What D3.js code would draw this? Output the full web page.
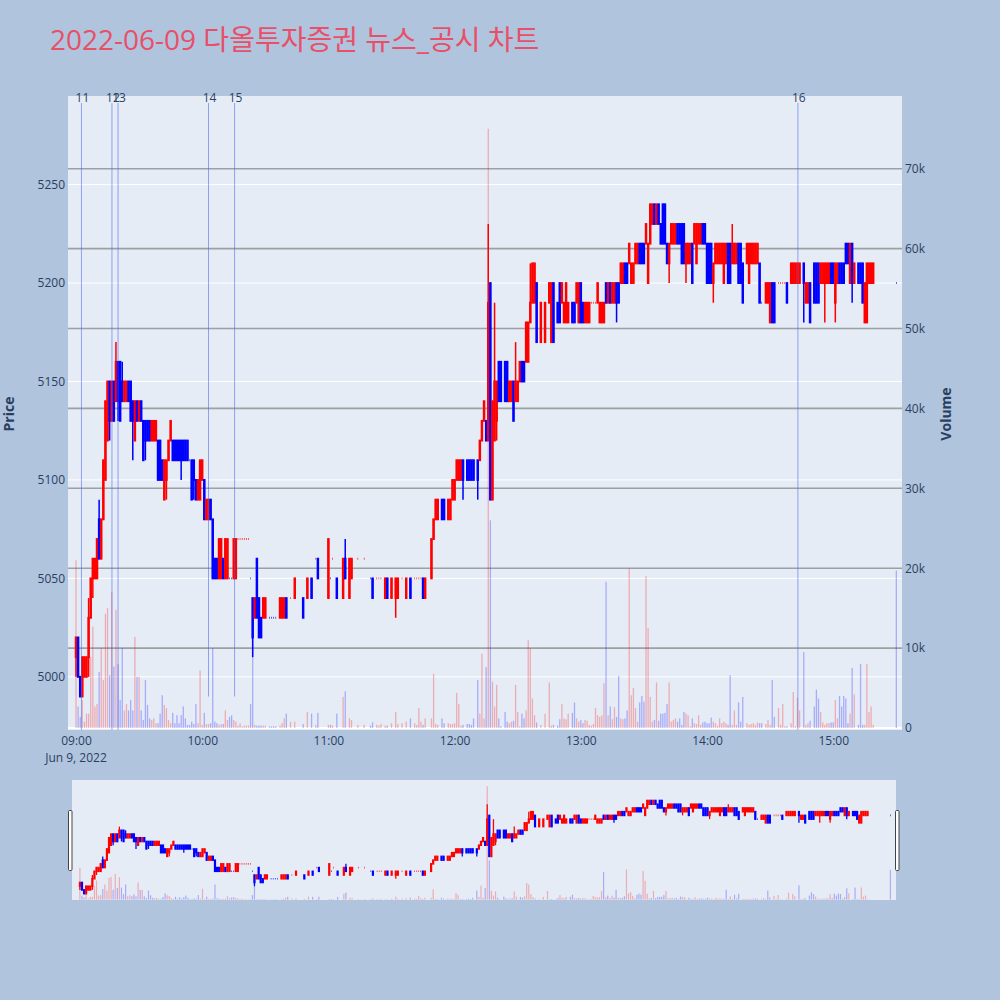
<!DOCTYPE html>
<html>
<head>
<meta charset="utf-8">
<script src="https://cdn.jsdelivr.net/npm/d3@7"></script>
<style>
  body { margin: 0; background: #b0c4de; }
  text { font-family: "Open Sans", "Noto Sans CJK KR", sans-serif; }
</style>
</head>
<body>
<svg width="1000" height="1000"></svg>
<script>
// minutes after 09:00 that have a candle
const minutes = [
  0,1,2,3,4,5,6,7,8,9,
  10,11,12,13,14,15,16,17,18,19,
  20,21,22,23,24,25,26,27,28,29,
  30,31,32,33,34,35,36,37,38,39,
  40,41,42,43,44,45,46,47,48,49,
  50,51,52,53,54,55,56,57,58,59,
  60,61,62,63,64,65,66,67,68,69,
  70,71,72,73,74,75,76,77,78,79,
  80,81,82,83,84,85,86,87,88,89,
  90,92,93,94,95,97,98,99,100,102,
  104,108,110,112,114,115,120,121,122,124,
  127,128,130,131,134,137,140,141,143,144,
  145,147,148,150,152,153,155,157,159,161,
  162,163,164,165,166,169,170,171,172,174,
  175,177,178,179,180,181,182,183,184,186,
  187,188,189,191,192,193,194,195,196,197,
  198,199,200,201,202,204,205,206,207,208,
  209,210,211,212,213,214,215,216,217,218,
  219,221,223,225,226,227,229,230,231,232,
  233,234,236,237,238,239,240,241,242,243,
  244,245,246,247,248,249,250,251,252,253,
  254,255,256,257,258,259,260,261,262,263,
  264,265,266,267,268,269,270,271,272,273,
  274,275,276,277,278,279,280,281,282,283,
  284,285,286,287,288,289,290,291,292,293,
  294,295,296,297,298,299,300,301,302,303,
  304,305,306,307,308,309,310,311,312,313,
  314,315,316,317,319,320,321,322,323,324,
  325,326,328,329,330,331,332,334,335,336,
  337,338,340,341,342,343,344,346,347,348,
  349,351,352,353,354,355,356,357,358,359,
  360,361,362,363,364,365,366,367,368,369,
  370,372,373,374,375,376,377,378,379,390
];
const opens = [
  5010,5020,5000,4990,5000,5000,5010,5030,5050,5050,
  5050,5080,5060,5080,5100,5120,5150,5130,5150,5140,
  5160,5160,5150,5140,5140,5150,5150,5140,5120,5140,
  5130,5140,5130,5130,5130,5130,5120,5120,5120,5120,
  5120,5110,5090,5100,5110,5120,5120,5120,5120,5120,
  5120,5120,5120,5120,5110,5110,5110,5100,5090,5090,
  5100,5100,5080,5080,5090,5080,5060,5060,5050,5050,
  5060,5050,5050,5050,5050,5050,5050,5070,5070,5070,
  5070,5070,5070,5050,5040,5030,5060,5040,5030,5030,
  5030,5030,5030,5030,5030,5030,5030,5030,5040,5040,
  5040,5040,5040,5050,5060,5060,5040,5050,5060,5050,
  5040,5060,5040,5050,5060,5060,5050,5050,5050,5050,
  5050,5040,5050,5040,5040,5040,5050,5040,5050,5050,
  5050,5050,5050,5050,5040,5050,5070,5080,5080,5090,
  5090,5080,5080,5090,5090,5100,5100,5100,5110,5110,
  5110,5110,5110,5110,5110,5120,5130,5130,5120,5200,
  5090,5120,5130,5160,5160,5160,5160,5140,5140,5150,
  5140,5140,5150,5160,5160,5160,5160,5180,5190,5190,
  5200,5170,5170,5190,5170,5200,5190,5200,5190,5180,
  5180,5180,5190,5190,5190,5180,5200,5190,5180,5180,
  5180,5190,5190,5190,5190,5180,5180,5180,5200,5190,
  5200,5190,5190,5200,5200,5200,5200,5210,5210,5210,
  5200,5200,5210,5210,5220,5220,5220,5220,5200,5220,
  5230,5240,5230,5240,5230,5240,5240,5220,5210,5220,
  5220,5220,5230,5230,5230,5230,5210,5210,5210,5220,
  5220,5210,5220,5220,5230,5230,5220,5220,5220,5200,
  5210,5210,5210,5210,5200,5210,5220,5220,5210,5210,
  5210,5220,5220,5210,5210,5200,5210,5210,5210,5210,
  5210,5190,5190,5190,5180,5200,5200,5200,5200,5200,
  5200,5200,5200,5200,5200,5200,5200,5210,5190,5190,
  5200,5210,5210,5210,5200,5200,5200,5200,5200,5210,
  5210,5190,5200,5210,5210,5210,5220,5220,5200,5220,
  5200,5210,5210,5210,5180,5180,5200,5200,5200,5200
];
const highs = [
  5020,5020,5000,5010,5010,5010,5040,5050,5060,5060,
  5070,5090,5080,5110,5140,5150,5150,5150,5150,5170,
  5160,5160,5160,5150,5150,5150,5150,5140,5140,5140,
  5140,5140,5130,5130,5130,5130,5130,5130,5130,5120,
  5120,5110,5110,5110,5120,5130,5120,5120,5120,5120,
  5120,5120,5120,5120,5110,5110,5110,5100,5100,5110,
  5110,5100,5090,5090,5090,5080,5060,5060,5070,5070,
  5060,5070,5070,5050,5050,5070,5070,5070,5070,5070,
  5070,5070,5070,5050,5040,5040,5060,5040,5030,5040,
  5040,5030,5030,5030,5030,5040,5040,5040,5040,5040,
  5050,5040,5050,5050,5060,5060,5070,5050,5060,5050,
  5060,5070,5060,5060,5060,5060,5050,5050,5050,5050,
  5050,5050,5050,5050,5050,5050,5050,5050,5050,5050,
  5050,5050,5050,5050,5050,5070,5080,5090,5090,5090,
  5090,5090,5090,5100,5100,5110,5110,5110,5110,5110,
  5110,5110,5110,5110,5120,5130,5140,5130,5230,5200,
  5140,5190,5150,5160,5160,5160,5160,5150,5150,5150,
  5170,5150,5160,5160,5160,5180,5180,5210,5210,5210,
  5200,5190,5190,5200,5200,5200,5190,5200,5200,5190,
  5200,5190,5190,5190,5200,5200,5200,5190,5190,5190,
  5190,5190,5190,5190,5200,5190,5190,5190,5200,5200,
  5200,5200,5200,5200,5200,5210,5210,5210,5210,5220,
  5210,5210,5220,5220,5220,5220,5220,5230,5220,5240,
  5240,5240,5240,5240,5230,5240,5240,5220,5220,5230,
  5230,5230,5230,5230,5230,5230,5220,5220,5220,5220,
  5230,5230,5230,5230,5230,5230,5220,5220,5220,5210,
  5220,5220,5220,5220,5220,5220,5220,5220,5230,5220,
  5220,5220,5220,5210,5220,5220,5220,5220,5220,5220,
  5210,5190,5200,5200,5200,5200,5200,5200,5200,5200,
  5200,5200,5210,5210,5210,5210,5210,5210,5200,5200,
  5200,5210,5210,5210,5210,5210,5210,5210,5210,5210,
  5210,5210,5210,5210,5210,5210,5220,5220,5220,5220,
  5210,5210,5210,5210,5200,5210,5210,5210,5210,5200
];
const lows = [
  5000,5000,4990,4990,5000,5000,5000,5030,5040,5050,
  5050,5060,5060,5080,5100,5120,5120,5130,5130,5140,
  5130,5130,5140,5140,5140,5140,5130,5110,5120,5130,
  5130,5130,5110,5110,5120,5120,5120,5120,5120,5100,
  5100,5100,5090,5090,5110,5120,5110,5110,5110,5110,
  5100,5110,5110,5110,5110,5090,5090,5090,5090,5090,
  5100,5080,5080,5080,5080,5050,5050,5050,5050,5050,
  5050,5050,5050,5050,5050,5050,5050,5070,5070,5070,
  5070,5070,5070,5050,5010,5030,5030,5020,5020,5030,
  5030,5030,5030,5030,5030,5030,5030,5030,5030,5040,
  5040,5030,5040,5040,5060,5050,5040,5050,5060,5040,
  5040,5050,5040,5050,5060,5060,5050,5040,5050,5050,
  5050,5040,5040,5040,5030,5040,5050,5040,5040,5050,
  5050,5050,5050,5040,5040,5050,5070,5080,5080,5080,
  5080,5080,5080,5090,5090,5100,5100,5100,5090,5100,
  5100,5100,5100,5090,5110,5120,5130,5120,5120,5090,
  5090,5120,5120,5140,5140,5140,5140,5140,5140,5130,
  5140,5140,5150,5150,5150,5160,5160,5180,5190,5190,
  5170,5170,5170,5190,5170,5170,5180,5180,5190,5180,
  5180,5180,5180,5180,5190,5180,5180,5180,5180,5180,
  5180,5190,5190,5190,5190,5180,5180,5180,5190,5190,
  5190,5190,5190,5180,5190,5200,5200,5200,5200,5210,
  5200,5200,5210,5210,5210,5210,5210,5220,5200,5220,
  5230,5230,5230,5230,5220,5220,5220,5210,5200,5220,
  5220,5220,5220,5220,5210,5210,5200,5210,5210,5200,
  5220,5210,5220,5220,5220,5220,5200,5200,5200,5190,
  5210,5210,5210,5210,5200,5210,5200,5200,5210,5210,
  5210,5200,5200,5190,5210,5200,5210,5210,5210,5210,
  5190,5190,5190,5190,5180,5180,5180,5200,5200,5200,
  5200,5190,5200,5200,5200,5200,5200,5180,5190,5190,
  5180,5190,5190,5190,5200,5200,5180,5200,5200,5200,
  5200,5180,5200,5200,5200,5200,5210,5210,5200,5190,
  5200,5200,5200,5190,5180,5180,5200,5200,5200,5200
];
const closes = [
  5020,5000,4990,5010,5010,5010,5030,5050,5060,5060,
  5070,5060,5080,5110,5140,5150,5130,5150,5130,5160,
  5140,5130,5140,5150,5150,5140,5130,5130,5140,5130,
  5140,5130,5110,5120,5120,5120,5130,5130,5130,5100,
  5100,5100,5110,5110,5120,5130,5110,5110,5110,5110,
  5110,5110,5110,5110,5110,5090,5100,5090,5100,5110,
  5110,5080,5090,5090,5080,5050,5050,5050,5070,5070,
  5050,5070,5070,5050,5050,5070,5070,5070,5070,5070,
  5070,5070,5070,5050,5020,5040,5030,5020,5020,5040,
  5040,5030,5030,5030,5030,5040,5040,5040,5030,5040,
  5050,5030,5050,5040,5060,5050,5070,5050,5060,5040,
  5060,5050,5060,5060,5060,5060,5050,5040,5050,5050,
  5050,5050,5040,5050,5050,5050,5050,5050,5040,5050,
  5050,5050,5050,5040,5050,5070,5080,5090,5090,5080,
  5080,5090,5090,5100,5100,5110,5110,5110,5100,5100,
  5100,5100,5100,5100,5120,5130,5140,5120,5190,5090,
  5140,5150,5150,5140,5140,5140,5140,5150,5150,5130,
  5150,5150,5160,5150,5150,5180,5180,5190,5210,5210,
  5170,5190,5190,5200,5200,5170,5180,5180,5200,5190,
  5200,5190,5180,5180,5200,5200,5180,5180,5190,5190,
  5190,5190,5190,5190,5200,5190,5190,5190,5190,5200,
  5190,5200,5200,5190,5190,5210,5210,5200,5200,5220,
  5210,5210,5220,5220,5210,5210,5210,5230,5220,5240,
  5240,5230,5240,5230,5220,5220,5220,5210,5220,5230,
  5230,5230,5220,5220,5210,5210,5220,5220,5220,5200,
  5230,5230,5230,5230,5220,5220,5200,5200,5200,5210,
  5220,5220,5220,5220,5220,5220,5200,5200,5220,5220,
  5220,5200,5200,5190,5220,5220,5220,5220,5220,5220,
  5190,5190,5200,5200,5200,5180,5180,5200,5200,5200,
  5200,5190,5210,5210,5210,5210,5210,5200,5200,5200,
  5180,5190,5190,5190,5210,5210,5210,5210,5210,5200,
  5200,5210,5210,5200,5200,5200,5210,5210,5220,5200,
  5210,5200,5200,5190,5200,5210,5210,5210,5210,5200
];
// volume in thousands of shares
const volumeK = [
  21,2.7,1.4,3.5,0.8,1.8,1.8,8.9,12.7,2.7,
  3,7,10,6,14.3,15,6.6,17,7.7,14.8,
  8,3.5,10,2.2,3,2.2,3.5,2.2,11.4,6.4,
  6.4,2.2,1,6,2.9,1.2,1,1.2,0.6,0.6,
  1.8,4.1,2.9,2.5,1,0.6,1.9,0.6,1.6,0.6,
  1.6,2.7,1.2,0.4,0.4,0.8,0.5,3,0.6,7.2,
  0.4,1.9,0.5,0.5,0.6,10,0.8,0.6,0.4,0.5,
  0.5,2.2,1,1.4,1.6,1,0.8,0.3,0.6,0.2,
  0.3,0.3,0.3,3,11,0.4,0.3,0.3,0.3,0.3,
  0.3,0.2,0.2,0.2,0.2,0.3,0.6,1.2,1.8,0.8,
  0.8,0.5,2,1.8,0.4,1.9,0.4,0.4,0.3,1.8,
  3.9,4.6,1.2,1,0.4,0.4,0.3,0.7,0.4,0.3,
  0.5,0.3,0.3,0.6,2,0.5,0.6,0.8,1.2,0.6,
  0.4,2.5,0.8,0.4,1.2,1.2,6.8,0.5,0.4,1.2,
  0.6,0.6,0.5,0.5,0.6,4.4,3,0.3,0.4,0.5,
  0.5,0.4,1.2,6,1.8,9.3,1.2,7.6,75,26,
  5.8,2.7,5.4,1.2,0.2,2,0.8,0.6,0.8,0.9,
  5.4,2,0.2,1.8,1.2,2.2,11,10,3.7,1.6,
  0.7,0.4,1.8,5.7,0.3,0.4,0.3,1.1,3,1.2,
  1.1,1.8,1.9,3.2,1.2,0.8,1,0.6,1,0.9,
  0.4,0.3,0.5,2.5,1.6,1.4,1.6,5.6,18.3,1.6,
  2.7,1.1,2.6,1.4,6.5,1.2,1.1,1.2,2.2,20,
  4.1,5,2.5,0.8,3.2,4,3.3,19,12.5,3.9,
  0.8,1,5.7,0.9,1.8,1.8,1.9,3,5.7,0.8,
  1,1.2,0.8,1.2,0.4,2,1.8,1.6,0.2,1.2,
  0.6,0.5,1.6,0.4,0.7,0.8,0.6,0.6,1.3,0.8,
  0.6,0.3,1.2,0.6,0.8,0.6,0.4,6.6,0.4,2.2,
  0.4,3.2,0.8,3.9,0.6,0.4,0.5,0.6,0.4,0.7,
  0.6,0.6,0.5,1,0.4,6,1.4,2.5,0.4,3,
  0.2,0.2,0.6,4.5,0.2,3.8,2.2,9.5,0.4,0.6,
  0.9,2.7,4.8,3.7,2,0.7,0.4,0.6,0.6,0.7,
  0.7,3.5,1.2,4,2.7,4,3.7,0.6,1.8,7.5,
  4.2,0.4,8,0.4,0.4,8,2,2.7,0.4,19.7
];
const priceTicks = [5000, 5050, 5100, 5150, 5200, 5250];
const volumeTicks = [0, 10, 20, 30, 40, 50, 60, 70];
const newsLabels = ["11", "12", "13", "14", "15", "16"];
const newsTimes = ["09:02:36", "09:17:06", "09:20:00", "10:03:00", "10:15:24", "14:43:12"];
const newsLineEnds = [4973, 4973, 4973, 4990, 4990, 4973];

const UP = "#ff0000", DOWN = "#0000ff";
const textColor = "#2a3f5f";
const day = new Date(2022, 5, 9, 9, 0, 0);
const at = m => new Date(day.getTime() + m * 60000);
const parseT = d3.timeParse("%Y-%m-%d %H:%M:%S");

let svg = d3.select("svg");
const pLeft = 68, pRight = 902, pTop = 96, pBottom = 730;

let x = d3.scaleTime().domain([at(-3.8), at(392.7)]).range([pLeft, pRight]);
let yPrice = d3.scaleLinear().domain([4973, 5295]).range([pBottom, pTop]);
let yVol = d3.scaleLinear().domain([-0.25, 79.1]).range([pBottom, pTop]);

// slider scales
let xs = d3.scaleTime().domain(x.domain()).range([72, 896]);
let ysPrice = d3.scaleLinear().domain(yPrice.domain()).range([900, 780]);
let ysVol = d3.scaleLinear().domain(yVol.domain()).range([900, 780]);

// candle directions like plotly: equal open/close follows previous close, then previous direction
let bars = [];
let prevClose = null, prevDir = 1;
minutes.forEach(function(m, i) {
    let o = opens[i], c = closes[i], dir;
    if (c > o) dir = 1;
    else if (c < o) dir = -1;
    else if (prevClose !== null && c > prevClose) dir = 1;
    else if (prevClose !== null && c < prevClose) dir = -1;
    else dir = prevDir;
    bars.push({t: at(m), o: o, h: highs[i], l: lows[i], c: c, v: volumeK[i], dir: dir});
    prevClose = c; prevDir = dir;
});

svg.append("rect").attr("width", 1000).attr("height", 1000).attr("fill", "#b0c4de");

svg.append("text")
    .attr("x", 50).attr("y", 50)
    .text("2022-06-09 다올투자증권 뉴스_공시 차트")
    .style("font-size", "28px")
    .attr("fill", "#e84f68");

svg.append("rect")
    .attr("x", pLeft).attr("y", pTop)
    .attr("width", pRight - pLeft).attr("height", pBottom - pTop)
    .attr("fill", "#e5ecf6");

svg.append("clipPath").attr("id", "plotclip")
    .append("rect").attr("x", pLeft).attr("y", pTop)
    .attr("width", pRight - pLeft).attr("height", pBottom - pTop);

// grids
svg.selectAll("line.pgrid")
    .data(priceTicks)
    .enter()
    .append("line")
    .attr("class", "pgrid")
    .attr("x1", pLeft).attr("x2", pRight)
    .attr("y1", d => yPrice(d)).attr("y2", d => yPrice(d))
    .attr("stroke", "white").attr("stroke-width", 1);

svg.selectAll("line.vgrid")
    .data(volumeTicks)
    .enter()
    .append("line")
    .attr("class", "vgrid")
    .attr("x1", pLeft).attr("x2", pRight)
    .attr("y1", d => yVol(d)).attr("y2", d => yVol(d))
    .attr("stroke", d => d === 0 ? "white" : "rgba(128,128,128,0.7)")
    .attr("stroke-width", d => d === 0 ? 2 : 1.6);

let plot = svg.append("g").attr("clip-path", "url(#plotclip)");

function drawBars(g, xs_, yv, w) {
    g.selectAll("rect.vol")
        .data(bars)
        .enter()
        .append("rect")
        .attr("class", "vol")
        .attr("x", d => xs_(d.t) - w / 2)
        .attr("width", w)
        .attr("y", d => yv(d.v))
        .attr("height", d => yv(0) - yv(d.v))
        .attr("fill", d => d.dir > 0 ? "rgba(255,0,0,0.27)" : "rgba(0,0,255,0.27)");
}

function drawCandles(g, xs_, yp, half, sw) {
    let c = g.selectAll("g.candle")
        .data(bars)
        .enter()
        .append("g")
        .attr("class", "candle");
    c.append("line")
        .attr("x1", d => xs_(d.t)).attr("x2", d => xs_(d.t))
        .attr("y1", d => yp(d.h)).attr("y2", d => yp(d.l))
        .attr("stroke", d => d.dir > 0 ? UP : DOWN)
        .attr("stroke-width", sw * 0.8);
    c.append("path")
        .attr("d", function(d) {
            let cx = xs_(d.t);
            let y0 = yp(Math.max(d.o, d.c)), y1 = yp(Math.min(d.o, d.c));
            return "M" + (cx - half) + "," + y0 + "H" + (cx + half) + "V" + y1 + "H" + (cx - half) + "Z";
        })
        .attr("fill", d => d.dir > 0 ? UP : DOWN)
        .attr("stroke", d => d.dir > 0 ? UP : DOWN)
        .attr("stroke-width", sw)
        .attr("stroke-linejoin", "miter");
}

drawBars(plot, x, yVol, 1.3);
drawCandles(plot, x, yPrice, 0.3, 1.9);

// news markers
newsTimes.forEach(function(s, i) {
    let t = parseT("2022-06-09 " + s);
    let px = x(t);
    svg.append("line")
        .attr("x1", px).attr("x2", px)
        .attr("y1", 103).attr("y2", yPrice(newsLineEnds[i]))
        .attr("stroke", "rgba(70,100,235,0.55)")
        .attr("stroke-width", 1);
    svg.append("text")
        .attr("x", px + 1).attr("y", 101.5)
        .attr("text-anchor", "middle")
        .text(newsLabels[i])
        .style("font-size", "12px")
        .attr("fill", textColor);
});

// axes
let axL = svg.append("g")
    .attr("transform", "translate(" + pLeft + ",0)")
    .call(d3.axisLeft(yPrice).tickValues(priceTicks).tickSize(0).tickPadding(3)
        .tickFormat(d3.format("d")));
let axR = svg.append("g")
    .attr("transform", "translate(" + pRight + ",0)")
    .call(d3.axisRight(yVol).tickValues(volumeTicks).tickSize(0).tickPadding(3)
        .tickFormat(d => d === 0 ? "0" : d + "k"));
let axB = svg.append("g")
    .attr("transform", "translate(0," + pBottom + ")")
    .call(d3.axisBottom(x).ticks(d3.timeHour.every(1)).tickSize(0).tickPadding(6)
        .tickFormat(d3.timeFormat("%H:%M")));
[axL, axR, axB].forEach(function(a) {
    a.select(".domain").remove();
    a.selectAll("text")
        .style("font-size", "12px")
        .style("font-family", "'Open Sans', sans-serif")
        .attr("fill", textColor);
});

svg.append("text")
    .attr("x", x(at(0))).attr("y", 762)
    .attr("text-anchor", "middle")
    .text("Jun 9, 2022")
    .style("font-size", "12px")
    .attr("fill", textColor);

svg.append("text")
    .attr("transform", "translate(14,414) rotate(-90)")
    .attr("text-anchor", "middle")
    .text("Price")
    .style("font-size", "14px").style("font-weight", "bold")
    .attr("fill", textColor);
svg.append("text")
    .attr("transform", "translate(951,414) rotate(-90)")
    .attr("text-anchor", "middle")
    .text("Volume")
    .style("font-size", "14px").style("font-weight", "bold")
    .attr("fill", textColor);

// range slider
svg.append("rect")
    .attr("x", 72).attr("y", 780)
    .attr("width", 824).attr("height", 120)
    .attr("fill", "#e5ecf6");
let slider = svg.append("g");
drawBars(slider, xs, ysVol, 1.2);
drawCandles(slider, xs, ysPrice, 0.3, 1.6);

[70, 897].forEach(function(hx) {
    svg.append("rect")
        .attr("x", hx - 1.5).attr("y", 810.5)
        .attr("width", 3.5).attr("height", 60)
        .attr("rx", 1)
        .attr("fill", "white")
        .attr("stroke", "#444")
        .attr("stroke-width", 1);
});
</script>
</body>
</html>
